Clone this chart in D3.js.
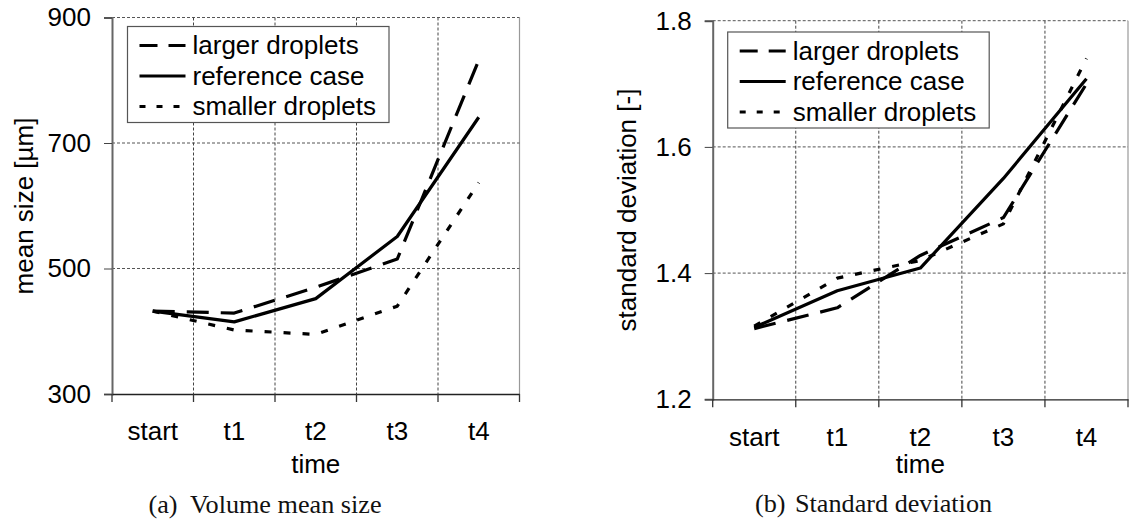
<!DOCTYPE html>
<html>
<head>
<meta charset="utf-8">
<script src="https://cdn.jsdelivr.net/npm/d3@7"></script>
<style>
  html, body { margin: 0; padding: 0; background: #fff; }
  svg { display: block; }
  .sans { font-family: "Liberation Sans", Arial, Helvetica, sans-serif; }
  .serif { font-family: "Liberation Serif", "Times New Roman", serif; }
</style>
</head>
<body>
<svg id="fig" width="1129" height="519"></svg>
<script>
// Sampling instants along the x axis
const timeLabels = ["start", "t1", "t2", "t3", "t4"];

// (a) volume mean size in micrometres
const meanLarger    = [432, 429, 470, 515, 832];
const meanReference = [432, 415, 452, 551, 741];
const meanSmaller   = [432, 402, 395, 440, 637];
const meanTicks     = [300, 500, 700, 900];

// (b) standard deviation of the size distribution
const sdLarger    = [1.312, 1.345, 1.428, 1.488, 1.700];
const sdReference = [1.314, 1.372, 1.408, 1.550, 1.708];
const sdSmaller   = [1.316, 1.392, 1.420, 1.478, 1.740];
const sdTicks     = [1.2, 1.4, 1.6, 1.8];

const seriesNames = ["larger droplets", "reference case", "smaller droplets"];
const seriesDash  = ["22,12", null, "7,12"];
const legendDash  = ["18,11", null, "6,11"];

const svg = d3.select("#fig");
svg.append("rect").attr("width", 1129).attr("height", 519).attr("fill", "#fff");

function drawPanel(opt) {
  const g = svg.append("g").attr("class", "sans");
  const x = d3.scaleBand().domain(timeLabels).range([opt.left, opt.right]);
  const xEdge = d3.scaleLinear().domain([0, timeLabels.length]).range([opt.left, opt.right]);
  const y = d3.scaleLinear().domain([opt.ticks[0], opt.ticks[opt.ticks.length - 1]])
              .range([opt.bottom, opt.top]);
  const cx = d => x(d) + x.bandwidth() / 2;

  // plot-area frame (right side)
  g.append("line")
    .attr("x1", opt.right).attr("x2", opt.right)
    .attr("y1", opt.top).attr("y2", opt.bottom)
    .attr("stroke", "#999").attr("stroke-width", 1.2);

  // horizontal grid
  g.append("g").selectAll("line").data(opt.ticks.slice(1)).join("line")
    .attr("x1", opt.left).attr("x2", opt.right)
    .attr("y1", d => y(d)).attr("y2", d => y(d))
    .attr("stroke", "#555").attr("stroke-width", 1)
    .attr("stroke-dasharray", "3,2");

  // vertical grid on the category boundaries
  g.append("g").selectAll("line").data(d3.range(1, timeLabels.length)).join("line")
    .attr("x1", d => xEdge(d)).attr("x2", d => xEdge(d))
    .attr("y1", opt.top).attr("y2", opt.bottom)
    .attr("stroke", "#444").attr("stroke-width", 1)
    .attr("stroke-dasharray", "3,2");

  // y axis
  const ya = g.append("g").attr("transform", `translate(${opt.left},0)`)
    .call(d3.axisLeft(y).tickValues(opt.ticks).tickSize(8).tickPadding(13)
      .tickFormat(opt.fmt));
  ya.select(".domain").attr("stroke", "#666").attr("stroke-width", 2);
  ya.selectAll(".tick line").attr("stroke", "#444");
  ya.selectAll("text").attr("font-size", 26).attr("fill", "#000")
    .attr("font-family", "Liberation Sans, Arial, sans-serif");

  // x axis: labels centred in each category
  const xa = g.append("g").attr("transform", `translate(0,${opt.bottom})`)
    .call(d3.axisBottom(x).tickSize(0).tickPadding(opt.labelPad));
  xa.select(".domain").attr("stroke", "#222").attr("stroke-width", 1.3);
  xa.selectAll("text").attr("font-size", 26).attr("fill", "#000")
    .attr("font-family", "Liberation Sans, Arial, sans-serif");

  // x ticks on category boundaries
  g.append("g").selectAll("line").data(d3.range(0, timeLabels.length + 1)).join("line")
    .attr("x1", d => xEdge(d)).attr("x2", d => xEdge(d))
    .attr("y1", opt.bottom).attr("y2", opt.bottom + 8)
    .attr("stroke", "#333").attr("stroke-width", 1.3);

  // axis titles
  g.append("text").attr("x", (opt.left + opt.right) / 2).attr("y", opt.xTitleY)
    .attr("text-anchor", "middle").attr("font-size", 26).attr("fill", "#000")
    .text("time");
  g.append("text")
    .attr("transform", `translate(${opt.yTitleX},${opt.yTitleY}) rotate(-90)`)
    .attr("text-anchor", "middle").attr("font-size", 26).attr("fill", "#000")
    .text(opt.yTitle);

  // data lines
  const line = d3.line().x((d, i) => cx(timeLabels[i])).y(d => y(d));
  opt.series.forEach((vals, k) => {
    g.append("path").datum(vals)
      .attr("d", line)
      .attr("fill", "none").attr("stroke", "#000").attr("stroke-width", 3.2)
      .attr("stroke-linejoin", "round")
      .attr("stroke-dasharray", seriesDash[k]);
  });

  // legend
  const lg = g.append("g").attr("transform", `translate(${opt.legend[0]},${opt.legend[1]})`);
  lg.append("rect").attr("width", 261.5).attr("height", 96)
    .attr("fill", "#fff").attr("stroke", "#555").attr("stroke-width", 1.2);
  seriesNames.forEach((name, k) => {
    const ly = 19 + k * 30.5;
    lg.append("line").attr("x1", 12).attr("x2", 58).attr("y1", ly).attr("y2", ly)
      .attr("stroke", "#000").attr("stroke-width", 3.2)
      .attr("stroke-dasharray", legendDash[k]);
    lg.append("text").attr("x", 65).attr("y", ly + 8.5)
      .attr("font-size", 26).attr("fill", "#000").text(name);
  });

  // sub-figure caption
  const cap = svg.append("text").attr("class", "serif").attr("y", opt.capY)
    .attr("font-size", 26.2).attr("fill", "#111");
  cap.append("tspan").attr("x", opt.capX[0]).text(opt.capTag);
  cap.append("tspan").attr("x", opt.capX[1]).text(opt.caption);
}

drawPanel({
  left: 112, right: 519.5, top: 17.5, bottom: 394,
  ticks: meanTicks, fmt: d3.format("d"),
  series: [meanLarger, meanReference, meanSmaller],
  labelPad: 28, xTitleY: 473, yTitleX: 33, yTitleY: 206,
  yTitle: "mean size [\u00b5m]",
  legend: [127.5, 26.5],
  capX: [148.5, 190], capY: 513, capTag: "(a)", caption: "Volume mean size"
});

drawPanel({
  left: 712.7, right: 1128, top: 20.7, bottom: 399.3,
  ticks: sdTicks, fmt: d3.format(".1f"),
  series: [sdLarger, sdReference, sdSmaller],
  labelPad: 28, xTitleY: 473, yTitleX: 636, yTitleY: 210,
  yTitle: "standard deviation [-]",
  legend: [727.7, 32],
  capX: [755, 795], capY: 512, capTag: "(b)", caption: "Standard deviation"
});
</script>
</body>
</html>
